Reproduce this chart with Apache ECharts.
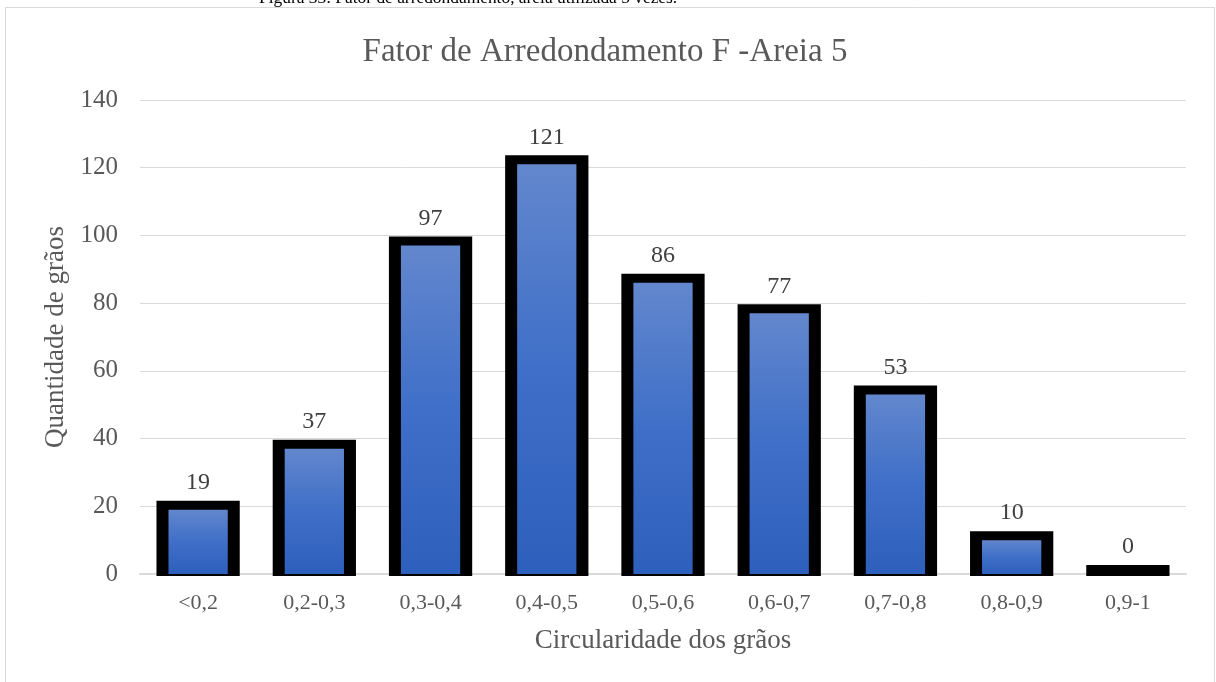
<!DOCTYPE html>
<html>
<head>
<meta charset="utf-8">
<script src="https://cdn.jsdelivr.net/npm/echarts@6/dist/echarts.min.js"></script>
<style>
  html, body { margin: 0; padding: 0; background: #ffffff; }
  #chart { width: 1216px; height: 682px; }
</style>
</head>
<body>
<div id="chart"></div>
<script>
// Circularity classes of the grains and how many grains fall in each one
const categories = ['<0,2', '0,2-0,3', '0,3-0,4', '0,4-0,5', '0,5-0,6', '0,6-0,7', '0,7-0,8', '0,8-0,9', '0,9-1'];
const grainCounts = [19, 37, 97, 121, 86, 77, 53, 10, 0];
const yTicks = [0, 20, 40, 60, 80, 100, 120, 140];

const SERIF = "'Liberation Serif', 'Times New Roman', serif";
const chart = echarts.init(document.getElementById('chart'));

// Each bar: a thick black frame with a blue gradient column inside
function renderBar(params, api) {
  const idx = api.value(0);
  const val = api.value(1);
  const top = api.coord([idx, val]);
  const base = api.coord([idx, 0]);
  const band = api.size([1, 0])[0];
  const inner = band * 0.51;
  const side = 12;
  const frameTop = 9;
  const x = top[0];
  const children = [
    {
      type: 'rect',
      shape: { x: x - inner / 2 - side, y: top[1] - frameTop, width: inner + side * 2, height: base[1] - top[1] + frameTop + 2 },
      style: { fill: '#000000' }
    }
  ];
  if (base[1] - top[1] > 0) {
    children.push({
      type: 'rect',
      shape: { x: x - inner / 2, y: top[1], width: inner, height: base[1] - top[1] },
      style: {
        fill: new echarts.graphic.LinearGradient(0, 0, 0, 1, [
          { offset: 0, color: '#6287cd' },
          { offset: 0.5, color: '#3f6fc8' },
          { offset: 1, color: '#2d5fbc' }
        ])
      }
    });
  }
  children.push({
    type: 'text',
    style: {
      text: String(val),
      x: x,
      y: top[1] - frameTop - 18,
      align: 'center',
      verticalAlign: 'middle',
      fill: '#404040',
      font: '24px ' + SERIF
    }
  });
  return { type: 'group', children: children };
}

chart.setOption({
  backgroundColor: '#ffffff',
  animation: false,
  title: {
    text: 'Fator de Arredondamento F -Areia 5',
    left: 600,
    textAlign: 'center',
    top: 31,
    textStyle: { fontFamily: SERIF, fontSize: 33, fontWeight: 'normal', color: '#595959' }
  },
  graphic: [
    {
      type: 'rect',
      shape: { x: 5.5, y: 7.5, width: 1209, height: 690 },
      style: { fill: null, stroke: '#d9d9d9', lineWidth: 1 },
      silent: true
    },
    {
      type: 'text',
      left: 259,
      top: -10,
      style: {
        text: 'Figura 33: Fator de arredondamento, areia utilizada 5 vezes.',
        font: '17.4px ' + SERIF,
        fill: '#000000'
      },
      silent: true
    }
  ],
  grid: { left: 140, right: 30, top: 100, bottom: 108, containLabel: false },
  xAxis: {
    type: 'category',
    data: categories,
    name: 'Circularidade dos grãos',
    nameLocation: 'middle',
    nameGap: 53,
    nameTextStyle: { fontFamily: SERIF, fontSize: 27, color: '#595959' },
    axisLine: { lineStyle: { color: '#d9d9d9', width: 2 } },
    axisTick: { show: false },
    axisLabel: { margin: 18, fontFamily: SERIF, fontSize: 22, color: '#595959' }
  },
  yAxis: {
    type: 'value',
    min: yTicks[0],
    max: yTicks[yTicks.length - 1],
    interval: yTicks[1] - yTicks[0],
    name: 'Quantidade de grãos',
    nameLocation: 'middle',
    nameGap: 71,
    nameTextStyle: { fontFamily: SERIF, fontSize: 27, color: '#595959' },
    axisLine: { show: false },
    axisTick: { show: false },
    axisLabel: { margin: 22, fontFamily: SERIF, fontSize: 25, color: '#595959' },
    splitLine: { lineStyle: { color: '#d9d9d9', width: 1 } }
  },
  series: [
    {
      type: 'custom',
      renderItem: renderBar,
      encode: { x: 0, y: 1 },
      data: grainCounts.map((v, i) => [i, v]),
      clip: false
    }
  ]
});
</script>
</body>
</html>
